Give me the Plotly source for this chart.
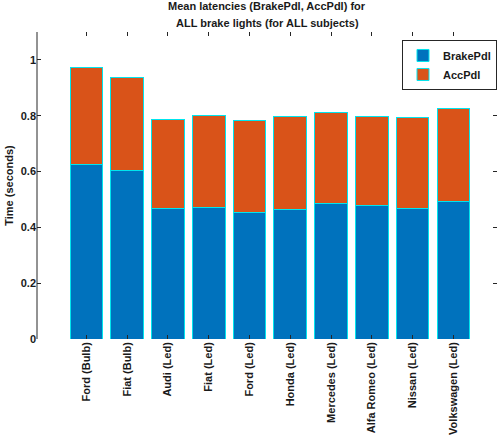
import plotly.graph_objects as go

categories = ["Ford (Bulb)", "Fiat (Bulb)", "Audi (Led)", "Fiat (Led)", "Ford (Led)",
              "Honda (Led)", "Mercedes (Led)", "Alfa Romeo (Led)", "Nissan (Led)", "Volkswagen (Led)"]
brake_pdl = [0.625, 0.603, 0.467, 0.471, 0.455, 0.464, 0.486, 0.480, 0.467, 0.494]
acc_pdl = [0.348, 0.334, 0.318, 0.331, 0.327, 0.332, 0.324, 0.318, 0.327, 0.331]
y_ticks = [0, 0.2, 0.4, 0.6, 0.8, 1]
y_tick_labels = ["0", "0.2", "0.4", "0.6", "0.8", "1"]
title_lines = ["Mean latencies (BrakePdl, AccPdl) for", "ALL brake lights (for ALL subjects)"]

FONT = dict(family="Liberation Sans, Arial, sans-serif", size=11, color="#1a1a1a", weight="bold")
x_idx = list(range(len(categories)))

W, H = 502, 444
ML, MR, MT, MB = 37, 5, 32, 105

fig = go.Figure()
fig.add_trace(go.Bar(x=x_idx, y=brake_pdl, name="BrakePdl", width=0.8,
                     marker=dict(color="#0072BD", line=dict(color="#00E5EE", width=1))))
fig.add_trace(go.Bar(x=x_idx, y=acc_pdl, name="AccPdl", width=0.8,
                     marker=dict(color="#D95319", line=dict(color="#00E5EE", width=1))))

annotations = []
for i, line in enumerate(title_lines):
    annotations.append(dict(text=line, xref="paper", yref="paper", x=0.5, xanchor="center",
                            y=1 + (MT - 6 - 17 * i) / (H - MT - MB), yanchor="middle",
                            showarrow=False, font=FONT))

fig.update_layout(
    width=W, height=H,
    barmode="stack",
    font=FONT,
    paper_bgcolor="white", plot_bgcolor="white",
    margin=dict(l=ML, r=MR, t=MT, b=MB),
    annotations=annotations,
    legend=dict(x=1.0, y=0.974, xanchor="right", yanchor="top", traceorder="normal",
                bgcolor="white", bordercolor="#262626", borderwidth=1,
                font=FONT, tracegroupgap=0, itemwidth=30),
    showlegend=True,
    shapes=[dict(type="line", xref="paper", yref="paper", x0=0, x1=0, y0=0, y1=1,
                 line=dict(color="#262626", width=1))],
)
fig.update_xaxes(range=[-1.21, 10.07], tickmode="array", tickvals=x_idx, ticktext=categories,
                 tickangle=-90, ticks="inside", ticklen=4, tickcolor="#262626",
                 showline=False, mirror="ticks", showgrid=False, zeroline=False,
                 tickfont=FONT, automargin=False, ticklabelstandoff=0)
fig.update_yaxes(range=[0, 1.1], tickmode="array", tickvals=y_ticks, ticktext=y_tick_labels,
                 ticks="inside", ticklen=4, tickcolor="#262626",
                 showline=False, mirror="ticks",
                 showgrid=False, zeroline=False, tickfont=FONT, automargin=False,
                 title=dict(text="Time (seconds)", font=FONT, standoff=4))

fig.write_html("out.html", config={"displayModeBar": False},
               post_script="document.body.style.margin='0';")
